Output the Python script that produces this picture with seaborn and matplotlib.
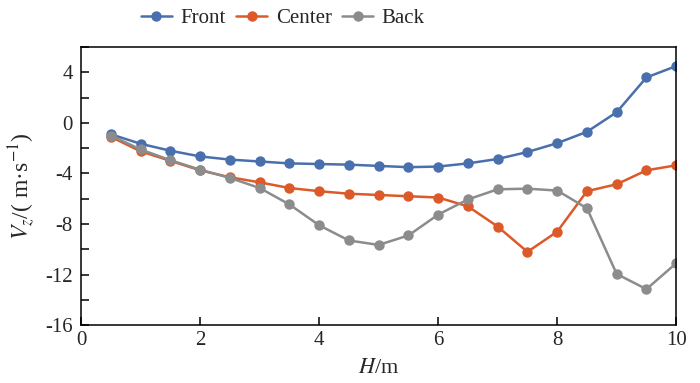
import pandas as pd
import numpy as np
import matplotlib
matplotlib.use('Agg')
import matplotlib.pyplot as plt
import seaborn as sns
from matplotlib.ticker import MultipleLocator

# Data
h = [0.5, 1.0, 1.5, 2.0, 2.5, 3.0, 3.5, 4.0, 4.5, 5.0,
     5.5, 6.0, 6.5, 7.0, 7.5, 8.0, 8.5, 9.0, 9.5, 10.0]
front = [-0.9, -1.65, -2.2, -2.65, -2.9, -3.05, -3.2, -3.25, -3.3, -3.4,
         -3.5, -3.45, -3.2, -2.85, -2.3, -1.6, -0.7, 0.85, 3.6, 4.5]
center = [-1.1, -2.25, -3.0, -3.75, -4.3, -4.7, -5.15, -5.4, -5.6, -5.7,
          -5.8, -5.9, -6.6, -8.2, -10.2, -8.6, -5.4, -4.85, -3.75, -3.35]
back = [-1.0, -2.1, -2.95, -3.7, -4.35, -5.15, -6.45, -8.1, -9.3, -9.65,
        -8.9, -7.25, -6.05, -5.25, -5.2, -5.35, -6.75, -11.95, -13.15, -11.1]
series = ['Front', 'Center', 'Back']
colors = ['#4a6fad', '#dc5a2a', '#8c8c8c']

df = pd.DataFrame({
    'H': h * 3,
    'Vz': front + center + back,
    'Position': ['Front'] * len(h) + ['Center'] * len(h) + ['Back'] * len(h),
})

sns.set_style('ticks')
plt.rcParams['font.family'] = ['Liberation Serif', 'DejaVu Serif']
plt.rcParams['mathtext.fontset'] = 'stix'
plt.rcParams['axes.unicode_minus'] = False

fig = plt.figure(figsize=(7, 3.83), dpi=100)
ax = fig.add_axes([0.116, 0.151, 0.850, 0.726])

sns.lineplot(data=df, x='H', y='Vz', hue='Position', hue_order=series,
             palette=dict(zip(series, colors)), marker='o', markersize=7.5,
             markeredgewidth=0, linewidth=1.8, ax=ax, legend=True)

ax.set_xlim(0, 10)
ax.set_ylim(-16, 6)
ax.xaxis.set_major_locator(MultipleLocator(2))
ax.yaxis.set_major_locator(MultipleLocator(4))
ax.yaxis.set_minor_locator(MultipleLocator(2))
ax.tick_params(axis='both', which='both', direction='in', length=6, width=1.1,
               labelsize=15, top=False, right=False, color='black')
ax.tick_params(axis='x', pad=4)
ax.tick_params(axis='y', pad=6)
for s in ax.spines.values():
    s.set_linewidth(1.1)
    s.set_color('black')

ax.set_yticks([4, 0, -4, -8, -12, -16])
ax.set_xlabel('$H$/m', fontsize=16, labelpad=7)
ax.set_ylabel('$V_z$/( m·s$^{-1}$)', fontsize=17, labelpad=6)

handles, labels = ax.get_legend_handles_labels()
ax.legend(handles, labels, loc='center', bbox_to_anchor=(0.404, 0.953),
          bbox_transform=fig.transFigure, ncol=3, frameon=False, fontsize=15,
          handlelength=1.5, columnspacing=0.5, handletextpad=0.4)

fig.savefig('out.png', dpi=100)
